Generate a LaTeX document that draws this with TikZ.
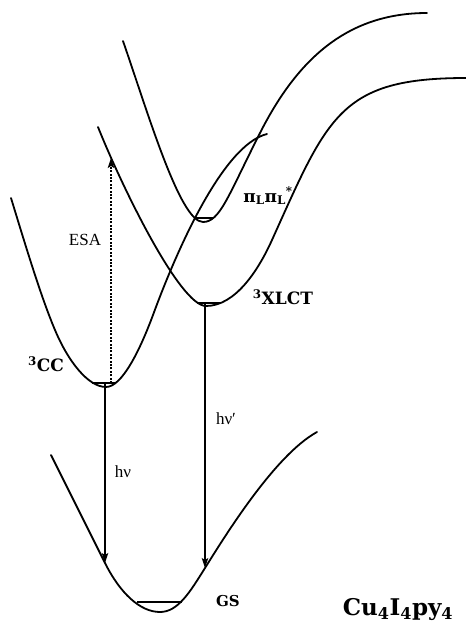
\documentclass[tikz,border=0pt]{standalone}
\usepackage{fontspec}
\setmainfont{Liberation Serif}
\newfontfamily\labfont{DejaVu Serif}
\usetikzlibrary{arrows.meta}

\begin{document}
\begin{tikzpicture}[x=1pt, y=-1pt,
    pes/.style={line width=1.8pt, line cap=round, line join=round},
    lev/.style={line width=1.8pt},
    emit/.style={line width=1.2pt, -{Stealth[length=10pt,width=6.5pt,inset=2pt]}},
    absorb/.style={line width=1.2pt, dash pattern=on 2pt off 1.4pt, -{Stealth[length=10pt,width=6.5pt,inset=2pt]}},
    lab/.style={font=\fontsize{17}{20}\selectfont, inner sep=0pt},
    st/.style={font=\fontsize{17}{20}\labfont\bfseries, inner sep=0pt}
  ]
  \useasboundingbox (0,0) rectangle (466,625);
  % potential energy curves
  \draw[pes] (123,41) .. controls (148,113) and (180,222) .. (203,222)
             .. controls (220,222) and (228,196) .. (260,133)
             .. controls (296,62) and (345,13) .. (427,13);
  \draw[pes] (98,127) .. controls (122,187) and (180,306) .. (206,306)
             .. controls (235,306) and (258,271) .. (272,240)
             .. controls (328,116) and (340,78) .. (466,78);
  \draw[pes] (11,198) .. controls (26,247) and (41,297) .. (55,330)
             .. controls (68,361) and (88,387) .. (106,387)
             .. controls (122,387) and (140,350) .. (153,315)
             .. controls (175,255) and (222,145) .. (267,134);
  \draw[pes] (51,455) .. controls (70,493) and (90,533) .. (105,563)
             .. controls (120,593) and (140,612) .. (160,612)
             .. controls (178,612) and (190,592) .. (205,568)
             .. controls (225,536) and (275,455) .. (317,432);
  % lowest levels
  \draw[lev] (196,218) -- (213,218);
  \draw[lev] (197,303) -- (220,303);
  \draw[lev] (92,383) -- (116,383);
  \draw[lev] (137,602) -- (182,602);
  \coordinate (cc0) at (105,383);
  \coordinate (cc1) at (111,383);
  \coordinate (xl0) at (205,303);
  \coordinate (xl1) at (111,158);
  \coordinate (gs1) at (105,563);
  \coordinate (gs2) at (205,568);
  \draw[emit] (cc0) -- (gs1);
  \draw[emit] (xl0) -- (gs2);
  \draw[absorb] (cc1) -- (xl1);
  % labels
  \node[st] (lpp) at (268,196) {π\textsubscript{L}π\textsubscript{L}\textsuperscript{*}};
  \node[st] (lxl) at (283,297) {\textsuperscript{3}XLCT};
  \node[st] (lcc) at (46,364) {\textsuperscript{3}CC};
  \node[lab] (lesa) at (85,240) {ESA};
  \node[lab] (lhv) at (123,472) {hν};
  \node[lab] (lhv2) at (226,419) {hν′};
  \node[st, font=\fontsize{15}{18}\labfont\bfseries] (lgs) at (228,601) {GS};
  \node[st, font=\fontsize{23}{26}\labfont\bfseries] (lmol) at (398,610) {Cu\textsubscript{4}I\textsubscript{4}py\textsubscript{4}};
\end{tikzpicture}
\end{document}
